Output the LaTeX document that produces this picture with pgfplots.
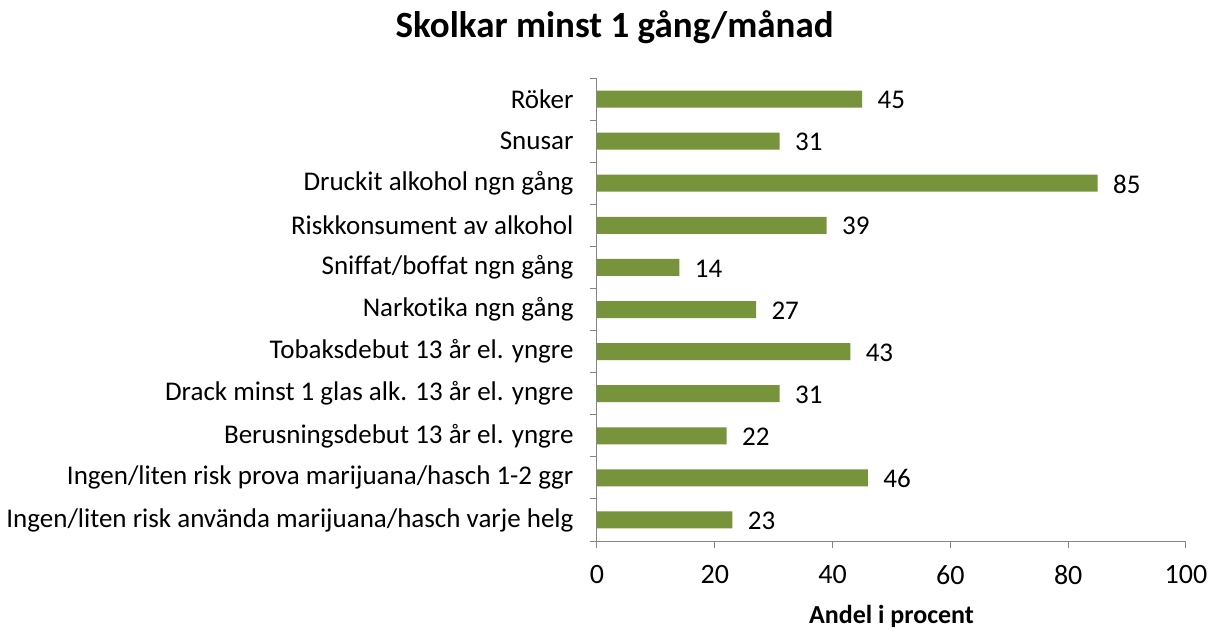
\documentclass[border=0pt]{standalone}
\usepackage{pgfplots}
\pgfplotsset{compat=1.18}
\usepackage{fontspec}
\setmainfont[Ligatures=NoCommon]{Carlito}
\definecolor{bargreen}{HTML}{77933C}
\definecolor{axisgray}{HTML}{868686}

\pgfplotstableread{
y  val
0  45
1  31
2  85
3  39
4  14
5  27
6  43
7  31
8  22
9  46
10 23
}\skolk

\begin{document}
\begin{tikzpicture}
\begin{axis}[
  at={(0pt,0pt)}, anchor=south west,
  scale only axis,
  width=589pt, height=463pt,
  xbar, bar width=17pt,
  xmin=0, xmax=100, xtick={0,20,...,100},
  ymin=-0.5, ymax=10.5, y dir=reverse,
  ytick={0,...,10},
  yticklabels={Röker, Snusar, Druckit alkohol ngn gång, Riskkonsument av alkohol,
    Sniffat/boffat ngn gång, Narkotika ngn gång, Tobaksdebut 13 år el. yngre,
    Drack minst 1 glas alk. 13 år el. yngre, Berusningsdebut 13 år el. yngre,
    Ingen/liten risk prova marijuana/hasch 1-2 ggr,
    Ingen/liten risk använda marijuana/hasch varje helg},
  minor ytick={-0.5,0.5,...,10.5},
  major tick length=0pt,
  axis x line*=bottom, axis y line*=left,
  axis line style={axisgray, line width=1pt},
  every minor tick/.style={axisgray, line width=1pt},
  minor tick length=7pt,
  extra x ticks={0,20,...,100}, extra x tick labels={},
  extra x tick style={major tick length=7pt, tick style={axisgray, line width=1pt}, tick align=outside},
  ytick align=outside,
  yticklabel style={font=\fontsize{27}{32}\selectfont, xshift=-20pt},
  xticklabel style={font=\fontsize{28}{32}\selectfont, yshift=-21pt},
  /pgf/number format/assume math mode=true,
  xlabel={\textbf{Andel i procent}},
  xlabel style={font=\fontsize{26}{30}\selectfont, yshift=-7pt},
  title={\textbf{Skolkar minst 1 gång/månad}},
  title style={font=\fontsize{37}{42}\selectfont, at={(0.03,1)}, yshift=25pt},
  nodes near coords,
  nodes near coords style={font=\fontsize{27}{32}\selectfont, black, xshift=12pt, yshift=-1pt},
  clip=false,
]
\addplot[fill=bargreen, draw=none] table[x=val, y=y] {\skolk};
\end{axis}
\path[use as bounding box] (-597pt,-87pt) rectangle (624pt,541pt);
\end{tikzpicture}
\end{document}
